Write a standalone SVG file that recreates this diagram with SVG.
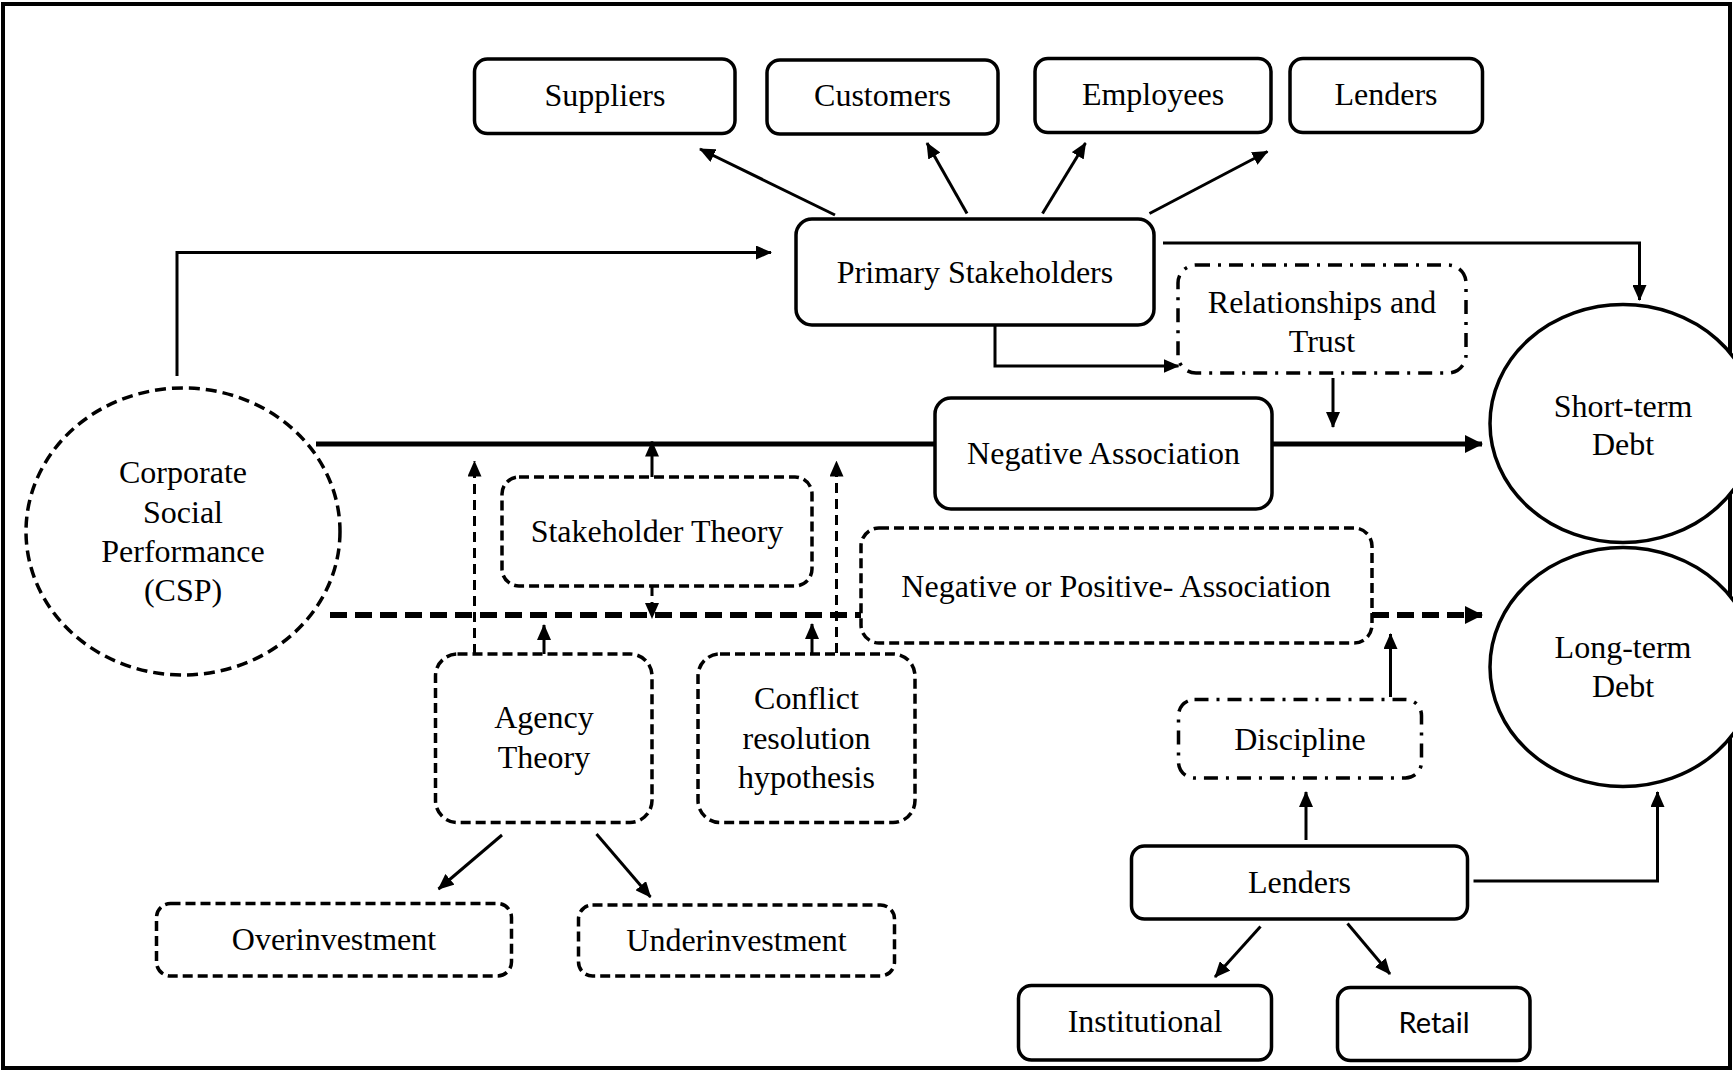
<svg xmlns="http://www.w3.org/2000/svg" width="1733" height="1071" viewBox="0 0 1733 1071">
<defs>
<style>
.t{font-family:"Liberation Serif","Times New Roman",serif;font-size:32px;fill:#000;text-anchor:middle}
.r{font-family:Lato,"Open Sans","Liberation Sans",sans-serif;font-size:29px;fill:#000;text-anchor:middle}
.s{fill:#fff;stroke:#000;stroke-width:3.5}
.d{fill:#fff;stroke:#000;stroke-width:3.5;stroke-dasharray:10 5}
.dd{fill:#fff;stroke:#000;stroke-width:3.5;stroke-dasharray:14 8 3 8}
.c{fill:none;stroke:#000;stroke-width:3}
.cd{fill:none;stroke:#000;stroke-width:3;stroke-dasharray:10 6}
.tk{fill:none;stroke:#000;stroke-width:5}
.tkd{fill:none;stroke:#000;stroke-width:6;stroke-dasharray:17 8}
</style>
<marker id="ah" markerUnits="userSpaceOnUse" markerWidth="16" markerHeight="14" refX="15" refY="7" orient="auto"><path d="M0,0 L16,7 L0,14 z" fill="#000"/></marker>
<marker id="ahb" markerUnits="userSpaceOnUse" markerWidth="18" markerHeight="18" refX="17" refY="9" orient="auto"><path d="M0,0 L18,9 L0,18 z" fill="#000"/></marker>
</defs>
<rect x="3" y="4" width="1727" height="1064" fill="#fff" stroke="#000" stroke-width="4"/>

<g id="connectors">
<path class="c" d="M177,376 V252.5 H771" marker-end="url(#ah)"/>
<path class="c" d="M835,215 L700,149" marker-end="url(#ah)"/>
<path class="c" d="M967,213.5 L927,143" marker-end="url(#ah)"/>
<path class="c" d="M1042.5,213.5 L1085.5,143" marker-end="url(#ah)"/>
<path class="c" d="M1149.5,213.5 L1267.5,151.5" marker-end="url(#ah)"/>
<path class="c" d="M1163,243 H1639.5 V300" marker-end="url(#ah)"/>
<path class="c" d="M995,326 V366 H1178.5" marker-end="url(#ah)"/>
<path class="c" d="M1333,378 V427" marker-end="url(#ah)"/>
<path class="tk" d="M316,444 H935"/>
<path class="tk" d="M1272,444 H1482" marker-end="url(#ahb)"/>
<path class="c" d="M652,477 V441.5" marker-end="url(#ah)"/>
<path class="cd" d="M474.5,654 V461.5" marker-end="url(#ah)"/>
<path class="cd" d="M836.5,653 V461.5" marker-end="url(#ah)"/>
<path class="tkd" d="M330,615 H861"/>
<path class="tkd" d="M1372,615 H1482" marker-end="url(#ahb)"/>
<path class="cd" d="M652,586 V618" marker-end="url(#ah)"/>
<path class="c" d="M544,654 V625" marker-end="url(#ah)"/>
<path class="c" d="M812,653 V624" marker-end="url(#ah)"/>
<path class="c" d="M502,835 L438.5,889" marker-end="url(#ah)"/>
<path class="c" d="M596.5,834 L650.5,897" marker-end="url(#ah)"/>
<path class="c" d="M1390.5,697 V634" marker-end="url(#ah)"/>
<path class="c" d="M1306,840 V792" marker-end="url(#ah)"/>
<path class="c" d="M1473.5,881 H1657.5 V792" marker-end="url(#ah)"/>
<path class="c" d="M1260.5,926.5 L1215,977" marker-end="url(#ah)"/>
<path class="c" d="M1347.5,923.5 L1390,974" marker-end="url(#ah)"/>
</g>

<g id="suppliers"><rect class="s" x="474.5" y="59" width="260.5" height="74.5" rx="13"/><text class="t" x="605" y="106">Suppliers</text></g>
<g id="customers"><rect class="s" x="767" y="60" width="231" height="74" rx="13"/><text class="t" x="882.5" y="106">Customers</text></g>
<g id="employees"><rect class="s" x="1035" y="58.5" width="236" height="74" rx="13"/><text class="t" x="1153" y="105">Employees</text></g>
<g id="lenders-top"><rect class="s" x="1290" y="58.5" width="192.5" height="74" rx="13"/><text class="t" x="1386" y="105">Lenders</text></g>

<g id="primary-stakeholders"><rect class="s" x="796" y="219" width="358" height="106" rx="16"/><text class="t" x="975" y="283">Primary Stakeholders</text></g>

<g id="relationships-trust"><rect class="dd" x="1178" y="265" width="288" height="108" rx="18"/><text class="t" x="1322" y="313">Relationships and</text><text class="t" x="1322" y="352">Trust</text></g>

<g id="csp"><ellipse class="d" cx="183" cy="531.5" rx="157" ry="143.5" style="stroke-dasharray:11 6"/>
<text class="t" x="183" y="483">Corporate</text><text class="t" x="183" y="523">Social</text><text class="t" x="183" y="562">Performance</text><text class="t" x="183" y="601">(CSP)</text></g>

<g id="negative-association"><rect class="s" x="935" y="398" width="337" height="111" rx="16"/><text class="t" x="1103.5" y="464">Negative Association</text></g>

<g id="short-term-debt"><ellipse fill="#fff" stroke="#000" stroke-width="3.5" cx="1623" cy="423.5" rx="133" ry="119"/><text class="t" x="1623" y="417">Short-term</text><text class="t" x="1623" y="455">Debt</text></g>

<g id="stakeholder-theory"><rect class="d" x="502" y="477" width="310" height="109" rx="17"/><text class="t" x="657" y="542">Stakeholder Theory</text></g>

<g id="negative-positive-association"><rect class="d" x="861" y="528" width="511" height="115" rx="18"/><text class="t" x="1116" y="597">Negative or Positive-  Association</text></g>

<g id="long-term-debt"><ellipse fill="#fff" stroke="#000" stroke-width="3.5" cx="1623" cy="667" rx="133" ry="119.5"/><text class="t" x="1623" y="658">Long-term</text><text class="t" x="1623" y="697">Debt</text></g>

<g id="agency-theory"><rect class="d" x="435.5" y="654" width="216.5" height="168.5" rx="22"/><text class="t" x="544" y="728">Agency</text><text class="t" x="544" y="768">Theory</text></g>

<g id="conflict-resolution"><rect class="d" x="698" y="654" width="217" height="168.5" rx="22"/><text class="t" x="806.5" y="709">Conflict</text><text class="t" x="806.5" y="749">resolution</text><text class="t" x="806.5" y="788">hypothesis</text></g>

<g id="overinvestment"><rect class="d" x="156.5" y="903.5" width="355" height="72.5" rx="14"/><text class="t" x="334" y="950">Overinvestment</text></g>
<g id="underinvestment"><rect class="d" x="578.5" y="905" width="316" height="71" rx="14"/><text class="t" x="736.5" y="951">Underinvestment</text></g>

<g id="discipline"><rect class="dd" x="1178.5" y="699.5" width="243" height="78.5" rx="16"/><text class="t" x="1300" y="750">Discipline</text></g>

<g id="lenders"><rect class="s" x="1131.5" y="846" width="336" height="73" rx="13"/><text class="t" x="1299.5" y="893">Lenders</text></g>
<g id="institutional"><rect class="s" x="1018.5" y="985.5" width="253" height="74.5" rx="13"/><text class="t" x="1145" y="1032">Institutional</text></g>
<g id="retail"><rect class="s" x="1337.5" y="987.5" width="192.5" height="73" rx="13"/><text class="r" x="1434" y="1033">Retail</text></g>
</svg>
